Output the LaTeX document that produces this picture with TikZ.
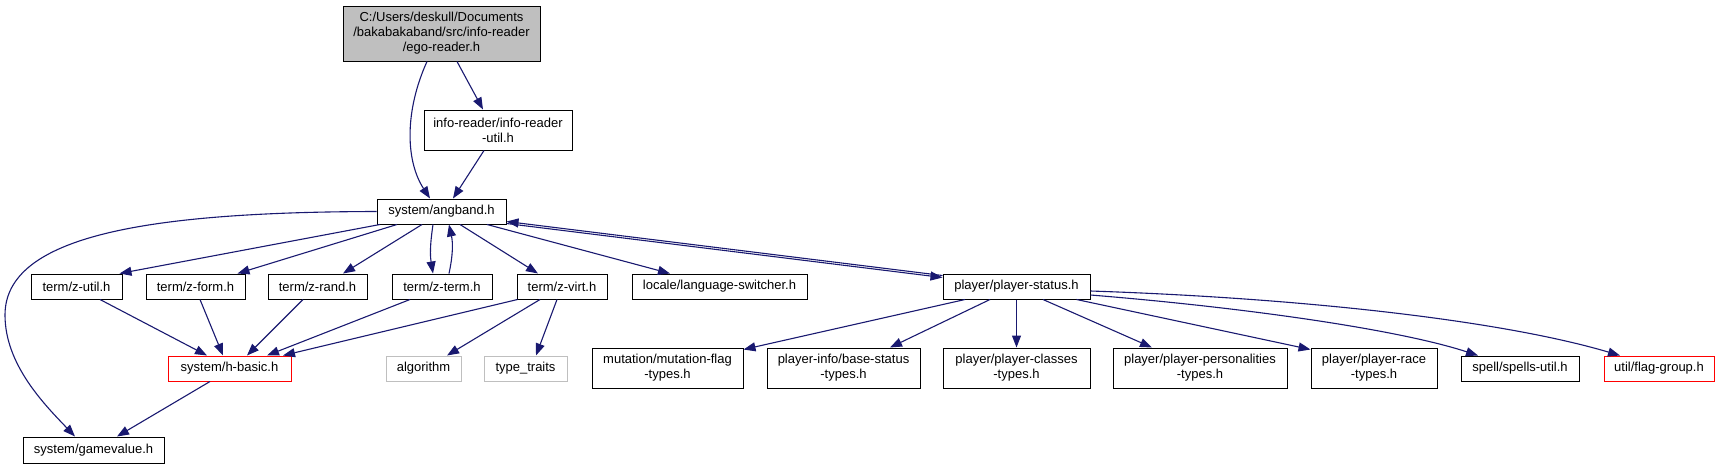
\documentclass[tikz,border=0pt]{standalone}
\usepackage{fontspec}
\setmainfont{Liberation Sans}
\usetikzlibrary{arrows.meta}
\definecolor{edgeblue}{HTML}{191970}
\definecolor{boxgray}{HTML}{BFBFBF}
\begin{document}
\begin{tikzpicture}[x=1pt,y=-1pt,
  box/.style={draw=black, line width=1pt, inner sep=0pt, align=center,
    font=\fontsize{13}{15}\selectfont, fill=white},
  redbox/.style={box, draw=red},
  graybox/.style={box, draw=boxgray},
  dep/.style={draw=edgeblue, line width=1.1pt,
    -{Triangle[length=12pt,width=9pt]}, color=edgeblue}]
\useasboundingbox (0,0) rectangle (1720,469);
% nodes
\node[box, fill=boxgray, minimum width=197pt, minimum height=55pt] (ego) at (441.5,33.5)
  {C:/Users/deskull/Documents\\/bakabakaband/src/info-reader\\/ego-reader.h};
\node[box, minimum width=148pt, minimum height=40pt] (iru) at (498,130)
  {info-reader/info-reader\\-util.h};
\node[box, minimum width=129pt, minimum height=25pt] (ang) at (441.5,211.5) {system/angband.h};
\node[box, minimum width=91pt, minimum height=25pt] (zutil) at (76.5,286.5) {term/z-util.h};
\node[box, minimum width=99pt, minimum height=25pt] (zform) at (195.5,286.5) {term/z-form.h};
\node[box, minimum width=99pt, minimum height=25pt] (zrand) at (317.5,286.5) {term/z-rand.h};
\node[box, minimum width=100pt, minimum height=25pt] (zterm) at (442,286.5) {term/z-term.h};
\node[box, minimum width=90pt, minimum height=25pt] (zvirt) at (562,286.5) {term/z-virt.h};
\node[box, minimum width=175pt, minimum height=25pt] (lang) at (719.5,286.5) {locale/language-switcher.h};
\node[box, minimum width=147pt, minimum height=25pt] (ps) at (1016.5,286.5) {player/player-status.h};
\node[redbox, minimum width=123pt, minimum height=25pt] (hbasic) at (229.5,368.5) {system/h-basic.h};
\node[graybox, minimum width=75pt, minimum height=25pt] (algo) at (423.5,368.5) {algorithm};
\node[graybox, minimum width=83pt, minimum height=25pt] (tt) at (525.5,368.5) {type\_traits};
\node[box, minimum width=141pt, minimum height=26pt] (gv) at (93.5,450) {system/gamevalue.h};
\node[box, minimum width=151pt, minimum height=40pt] (mut) at (667.5,368) {mutation/mutation-flag\\-types.h};
\node[box, minimum width=153pt, minimum height=40pt] (base) at (843.5,368) {player-info/base-status\\-types.h};
\node[box, minimum width=147pt, minimum height=40pt] (cls) at (1016.5,368) {player/player-classes\\-types.h};
\node[box, minimum width=174pt, minimum height=40pt] (pers) at (1200,368) {player/player-personalities\\-types.h};
\node[box, minimum width=126pt, minimum height=40pt] (race) at (1374,368) {player/player-race\\-types.h};
\node[box, minimum width=118pt, minimum height=25pt] (spells) at (1520,368.5) {spell/spells-util.h};
\node[redbox, minimum width=110pt, minimum height=25pt] (flag) at (1659,368.5) {util/flag-group.h};
% edges
\draw[dep] ([xshift=-14.5pt]ego.south) .. controls (405,110) and (405,160) .. ([xshift=-11.5pt]ang.north);
\draw[dep] ([xshift=15.5pt]ego.south) -- ([xshift=-15pt]iru.north);
\draw[dep] ([xshift=-14pt]iru.south) -- ([xshift=11.5pt]ang.north);
\draw[dep] (ang.west) .. controls (150,212) and (5,235) .. (5,315) .. controls (5,365) and (45,405) .. ([xshift=-18.5pt]gv.north);
\draw[dep] ([xshift=-61.5pt]ang.south) -- ([xshift=43pt]zutil.north);
\draw[dep] ([xshift=-44.5pt]ang.south) -- ([xshift=42pt]zform.north);
\draw[dep] ([xshift=-19.5pt]ang.south) -- ([xshift=25.5pt]zrand.north);
\draw[dep] ([xshift=-8.5pt]ang.south) .. controls (430,245) and (430,255) .. ([xshift=-9pt]zterm.north);
\draw[dep] ([xshift=7pt]zterm.north) .. controls (453,255) and (453,243) .. ([xshift=7.5pt]ang.south);
\draw[dep] ([xshift=18.5pt]ang.south) -- ([xshift=-24pt]zvirt.north);
\draw[dep] ([xshift=45.5pt]ang.south) -- ([xshift=-49.5pt]lang.north);
\draw[dep] ([yshift=1pt]ang.south east) -- ([yshift=9pt]ps.west);
\draw[dep] ([yshift=11pt]ps.west) -- ([yshift=3pt]ang.south east);
\draw[dep] ([xshift=23.5pt]zutil.south) -- ([xshift=-22.5pt]hbasic.north);
\draw[dep] ([xshift=4.5pt]zform.south) -- ([xshift=-6.5pt]hbasic.north);
\draw[dep] ([xshift=-14.5pt]zrand.south) -- ([xshift=17.5pt]hbasic.north);
\draw[dep] ([xshift=-32pt]zterm.south) -- ([xshift=37.5pt]hbasic.north);
\draw[dep] ([xshift=1pt]zvirt.south west) -- ([xshift=53.5pt]hbasic.north);
\draw[dep] ([xshift=-22pt]zvirt.south) -- ([xshift=23.5pt]algo.north);
\draw[dep] ([xshift=-5pt]zvirt.south) -- ([xshift=10.5pt]tt.north);
\draw[dep] ([xshift=-19.5pt]hbasic.south) -- ([xshift=23.5pt]gv.north);
\draw[dep] ([xshift=-51.5pt]ps.south) -- ([yshift=-2pt]mut.north east);
\draw[dep] ([xshift=-26.5pt]ps.south) -- ([xshift=46.5pt]base.north);
\draw[dep] (ps.south) -- (cls.north);
\draw[dep] ([xshift=26.5pt]ps.south) -- ([xshift=-48pt]pers.north);
\draw[dep] ([xshift=60pt]ps.south) -- ([yshift=-2pt]race.north west);
\draw[dep] ([yshift=-8.5pt]ps.east) .. controls (1250,308) and (1400,330) .. ([xshift=-42pt]spells.north);
\draw[dep] ([yshift=-4.5pt]ps.east) .. controls (1300,298) and (1500,320) .. ([xshift=-39pt]flag.north);
\end{tikzpicture}
\end{document}
